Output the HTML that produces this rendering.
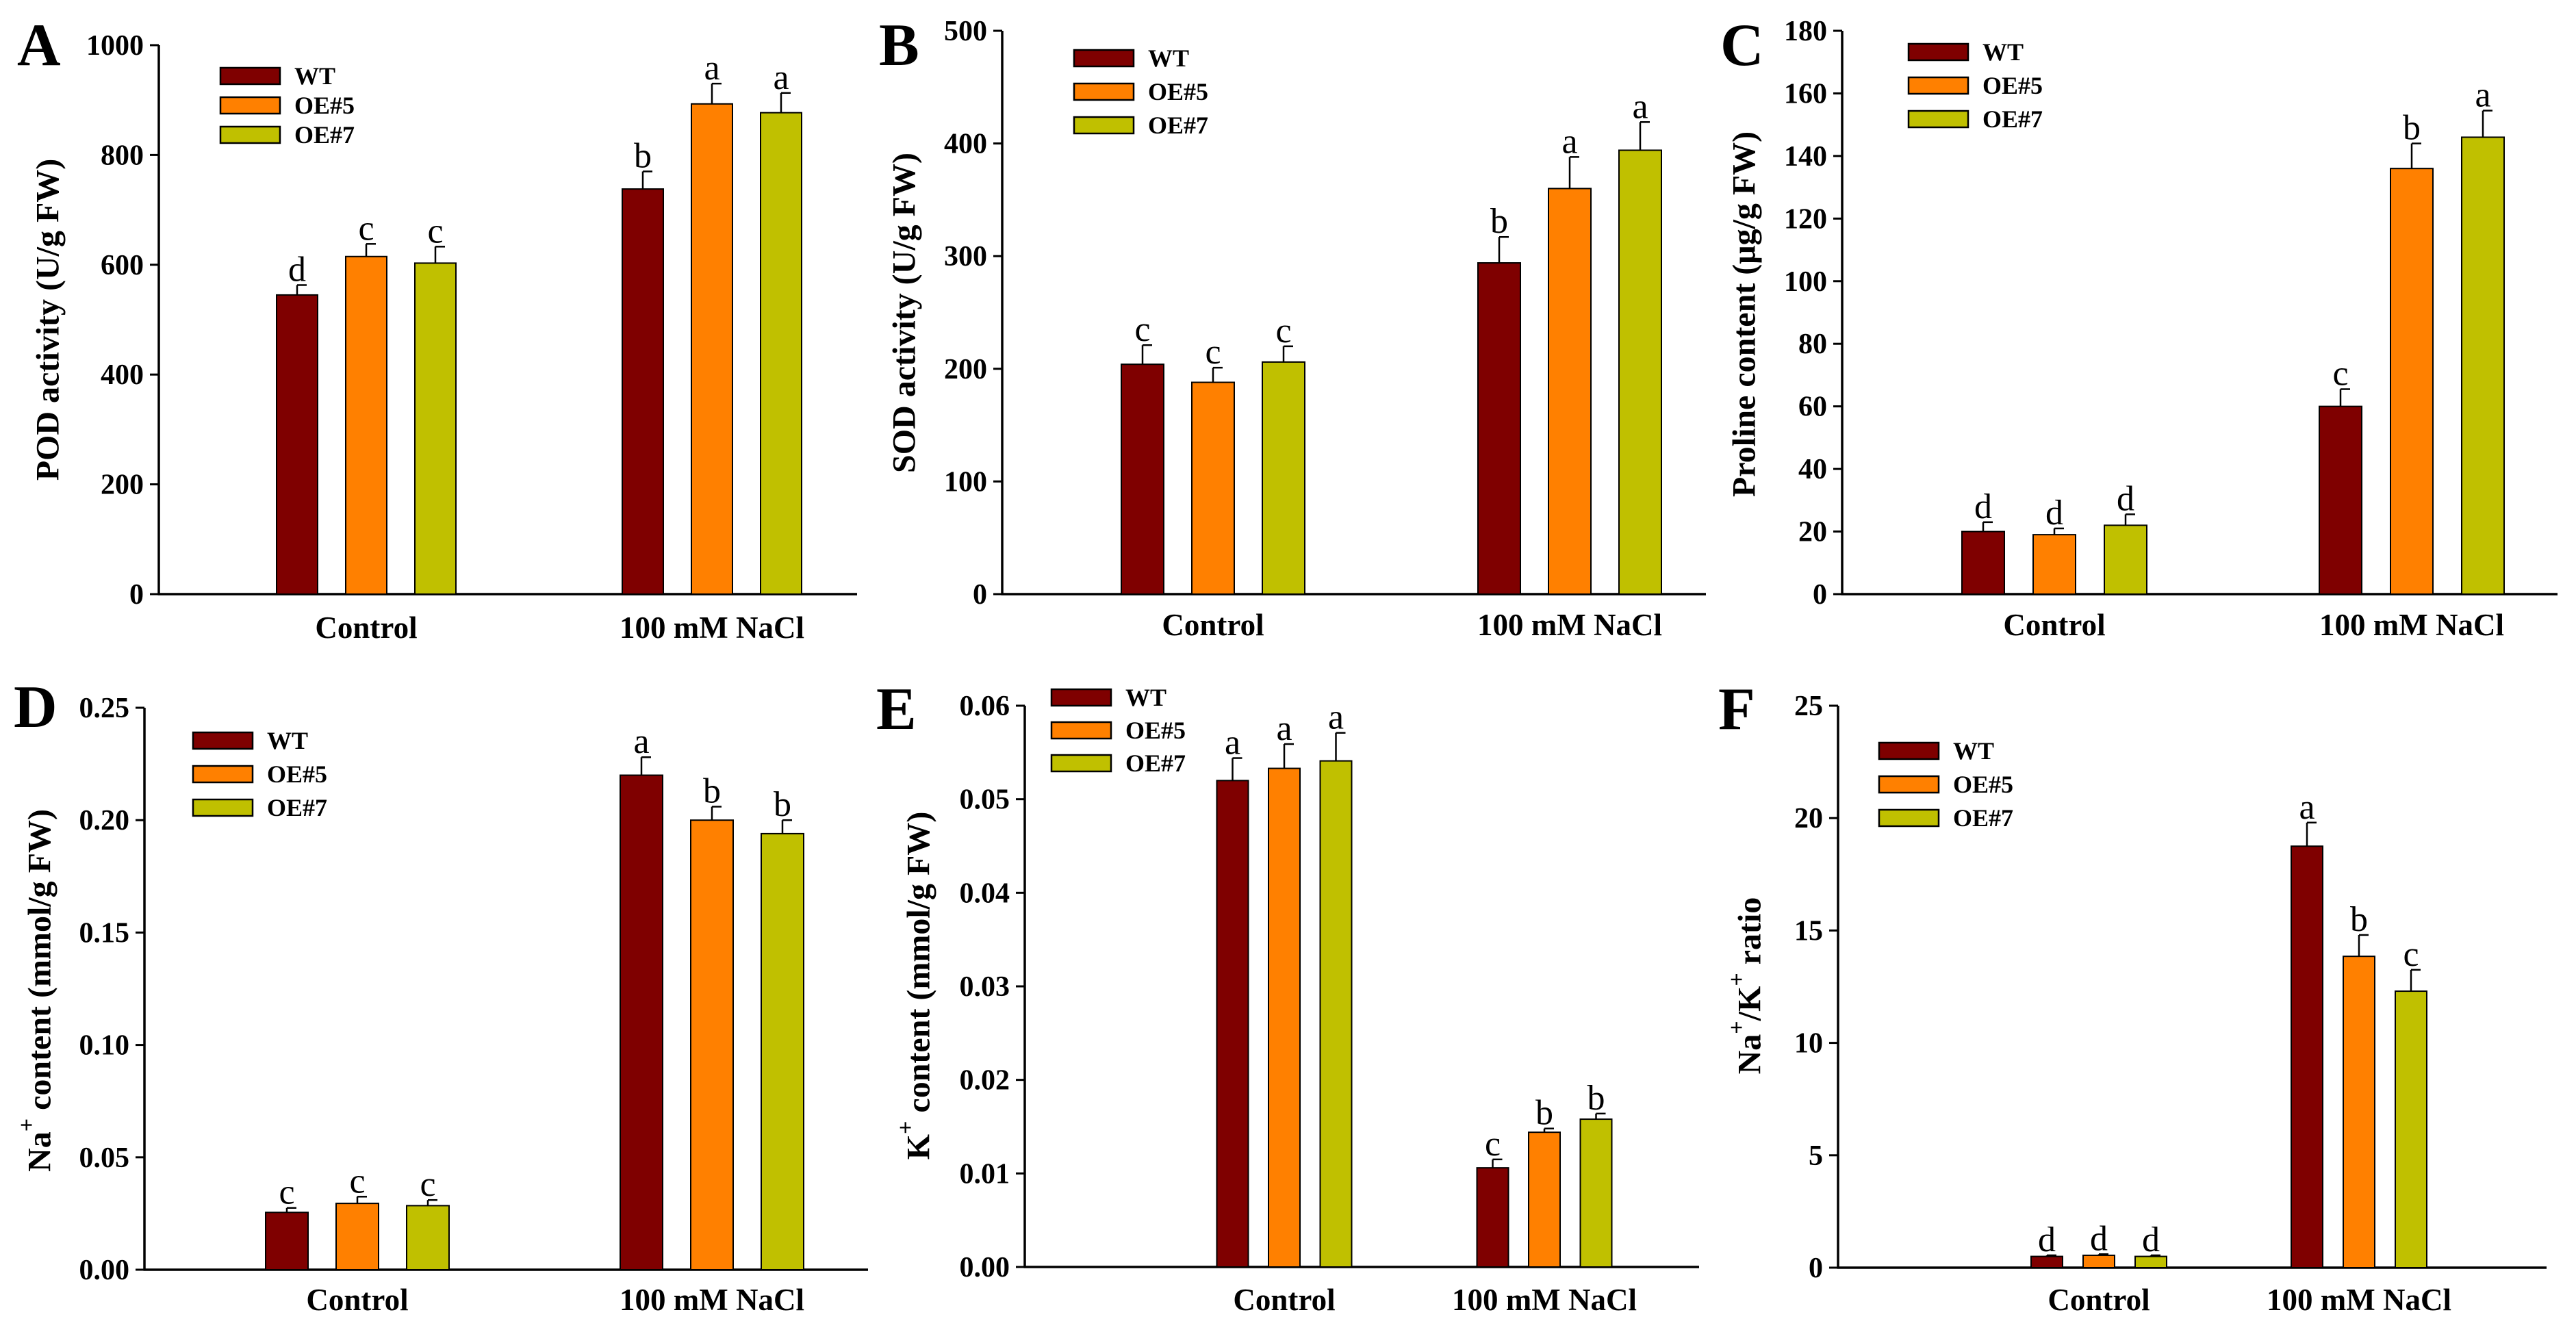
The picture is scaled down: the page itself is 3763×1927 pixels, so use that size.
<!DOCTYPE html>
<html><head><meta charset="utf-8"><style>
html,body{margin:0;padding:0;background:#fff;}
svg{display:block;font-family:"Liberation Serif",serif;}
</style></head><body>
<svg id="fig" width="3763" height="1927" viewBox="0 0 3763 1927" xmlns="http://www.w3.org/2000/svg"></svg>
<script>
const groups = ["Control", "100 mM NaCl"];
const seriesNames = ["WT", "OE#5", "OE#7"];
const colors = ["#7f0000", "#ff8000", "#c0c000"];

const podValues = [[545, 615, 603], [738, 893, 877]];
const podErrors = [[18, 23, 30], [32, 37, 36]];
const podLetters = [["d", "c", "c"], ["b", "a", "a"]];
const podTicks = ["0", "200", "400", "600", "800", "1000"];

const sodValues = [[204, 188, 206], [294, 360, 394]];
const sodErrors = [[17, 13, 14], [23, 28, 25]];
const sodLetters = [["c", "c", "c"], ["b", "a", "a"]];
const sodTicks = ["0", "100", "200", "300", "400", "500"];

const proValues = [[20, 19, 22], [60, 136, 146]];
const proErrors = [[3, 2, 3.5], [5.5, 8, 8.5]];
const proLetters = [["d", "d", "d"], ["c", "b", "a"]];
const proTicks = ["0", "20", "40", "60", "80", "100", "120", "140", "160", "180"];

const naValues = [[0.0255, 0.0295, 0.0285], [0.220, 0.200, 0.194]];
const naErrors = [[0.002, 0.003, 0.0025], [0.008, 0.006, 0.006]];
const naLetters = [["c", "c", "c"], ["a", "b", "b"]];
const naTicks = ["0.00", "0.05", "0.10", "0.15", "0.20", "0.25"];

const kValues = [[0.0520, 0.0533, 0.0541], [0.0106, 0.0144, 0.0158]];
const kErrors = [[0.0024, 0.0026, 0.003], [0.0009, 0.0004, 0.0006]];
const kLetters = [["a", "a", "a"], ["c", "b", "b"]];
const kTicks = ["0.00", "0.01", "0.02", "0.03", "0.04", "0.05", "0.06"];

const ratioValues = [[0.5, 0.55, 0.5], [18.75, 13.85, 12.3]];
const ratioErrors = [[0.05, 0.05, 0.05], [1.05, 0.95, 0.95]];
const ratioLetters = [["d", "d", "d"], ["a", "b", "c"]];
const ratioTicks = ["0", "5", "10", "15", "20", "25"];

const NS = "http://www.w3.org/2000/svg";
const svg = document.getElementById("fig");
function mk(tag, attrs, parent) {
  const e = document.createElementNS(NS, tag);
  for (const k in attrs) e.setAttribute(k, attrs[k]);
  (parent || svg).appendChild(e);
  return e;
}

function panel(cfg) {
  const g = mk("g", {});
  
  
  const ticks = cfg.ticks.map(Number);
  const ymax = ticks[ticks.length - 1];
  const yS = v => cfg.y0 - (v / ymax) * (cfg.y0 - cfg.y1);
  // panel letter
  const L = mk("text", {x: cfg.lx, y: cfg.ly, "font-size": 88, "font-weight": "bold"}, g);
  L.textContent = cfg.id;
  
  
  // axes
  const ya = mk("line", {x1: cfg.ax, y1: cfg.y1, x2: cfg.ax, y2: cfg.y0 + 1.5, stroke: "#000", "stroke-width": 3.5}, g);
  
  
  const xa = mk("line", {x1: cfg.ax - 1.5, y1: cfg.y0, x2: cfg.xr, y2: cfg.y0, stroke: "#000", "stroke-width": 3.5}, g);
  
  
  cfg.ticks.forEach((t, i) => {
    const y = yS(ticks[i]);
    const tl = mk("line", {x1: cfg.ax - 13, y1: y, x2: cfg.ax, y2: y, stroke: "#000", "stroke-width": 3}, g);
    
    
    const tx = mk("text", {x: cfg.ax - 22, y: y + 14, "font-size": 42, "font-weight": "bold", "text-anchor": "end"}, g);
    tx.textContent = t;
    
    
  });
  // y title
  const yt = mk("text", {transform: `translate(${cfg.tx},${cfg.ty}) rotate(-90)`, "font-size": 48, "font-weight": "bold", "text-anchor": "middle", "dominant-baseline": "central"}, g);
  yt.innerHTML = cfg.title;
  
  
  // bars
  groups.forEach((grp, gi) => {
    const gx = cfg.gx[gi];
    seriesNames.forEach((s, si) => {
      const v = cfg.values[gi][si], e = cfg.errors[gi][si];
      const x = gx + (si - 1) * cfg.step - cfg.bw / 2;
      const top = yS(v), cap = yS(v + e);
      const mid = x + cfg.bw / 2;
      const el = mk("line", {x1: mid, y1: top, x2: mid, y2: cap, stroke: "#000", "stroke-width": 2.5}, g);
      
      
      const ec = mk("line", {x1: mid, y1: cap, x2: mid + 14, y2: cap, stroke: "#000", "stroke-width": 2.5}, g);
      
      
      const r = mk("rect", {x: x, y: top, width: cfg.bw, height: cfg.y0 - top, fill: colors[si], stroke: "#000", "stroke-width": 2}, g);
      
      
      const lt = mk("text", {x: mid, y: cap - 6, "font-size": 52, "text-anchor": "middle"}, g);
      lt.textContent = cfg.letters[gi][si];
      
      
    });
    const cl = mk("text", {x: gx, y: cfg.catY, "font-size": 45, "font-weight": "bold", "text-anchor": "middle"}, g);
    cl.textContent = grp;
    
    
  });
  // legend
  seriesNames.forEach((s, si) => {
    const y = cfg.legY + si * cfg.legStep;
    const lr = mk("rect", {x: cfg.legX, y: y, width: 87, height: 24, fill: colors[si], stroke: "#000", "stroke-width": 2.5}, g);
    
    
    const lt = mk("text", {x: cfg.legX + 108, y: y + 24, "font-size": 36, "font-weight": "bold"}, g);
    lt.textContent = s;
    
    
  });
}

const sup = '<tspan baseline-shift="super" font-size="34">+</tspan>';
panel({id: "A", values: podValues, errors: podErrors, letters: podLetters, ticks: podTicks,
  ax: 232, y0: 868, y1: 66, xr: 1252, gx: [535, 1040], step: 101, bw: 60,
  lx: 25, ly: 95, tx: 70, ty: 467, title: "POD activity (U/g FW)", catY: 932,
  legX: 322, legY: 99, legStep: 43});
panel({id: "B", values: sodValues, errors: sodErrors, letters: sodLetters, ticks: sodTicks,
  ax: 1464, y0: 868, y1: 45, xr: 2492, gx: [1772, 2293], step: 103, bw: 62,
  lx: 1284, ly: 95, tx: 1321, ty: 457, title: "SOD activity (U/g FW)", catY: 928,
  legX: 1569, legY: 73, legStep: 49});
panel({id: "C", values: proValues, errors: proErrors, letters: proLetters, ticks: proTicks,
  ax: 2691, y0: 868, y1: 45, xr: 3736, gx: [3001, 3523], step: 104, bw: 62,
  lx: 2513, ly: 95, tx: 2548, ty: 459, title: "Proline content (μg/g FW)", catY: 928,
  legX: 2788, legY: 64, legStep: 49});
panel({id: "D", values: naValues, errors: naErrors, letters: naLetters, ticks: naTicks,
  ax: 211, y0: 1855, y1: 1034, xr: 1268, gx: [522, 1040], step: 103, bw: 62,
  lx: 20, ly: 1062, tx: 58, ty: 1447, title: "Na" + sup + " content (mmol/g FW)", catY: 1914,
  legX: 282, legY: 1070, legStep: 49});
panel({id: "E", values: kValues, errors: kErrors, letters: kLetters, ticks: kTicks,
  ax: 1497, y0: 1851, y1: 1031, xr: 2482, gx: [1876, 2256], step: 75.5, bw: 46,
  lx: 1280, ly: 1065, tx: 1342, ty: 1440, title: "K" + sup + " content (mmol/g FW)", catY: 1914,
  legX: 1536, legY: 1007, legStep: 48});
panel({id: "F", values: ratioValues, errors: ratioErrors, letters: ratioLetters, ticks: ratioTicks,
  ax: 2685, y0: 1852, y1: 1031, xr: 3720, gx: [3066, 3446], step: 76, bw: 46,
  lx: 2510, ly: 1065, tx: 2556, ty: 1440, title: "Na" + sup + "/K" + sup + " ratio", catY: 1914,
  legX: 2745, legY: 1085, legStep: 49});
</script>
</body></html>
